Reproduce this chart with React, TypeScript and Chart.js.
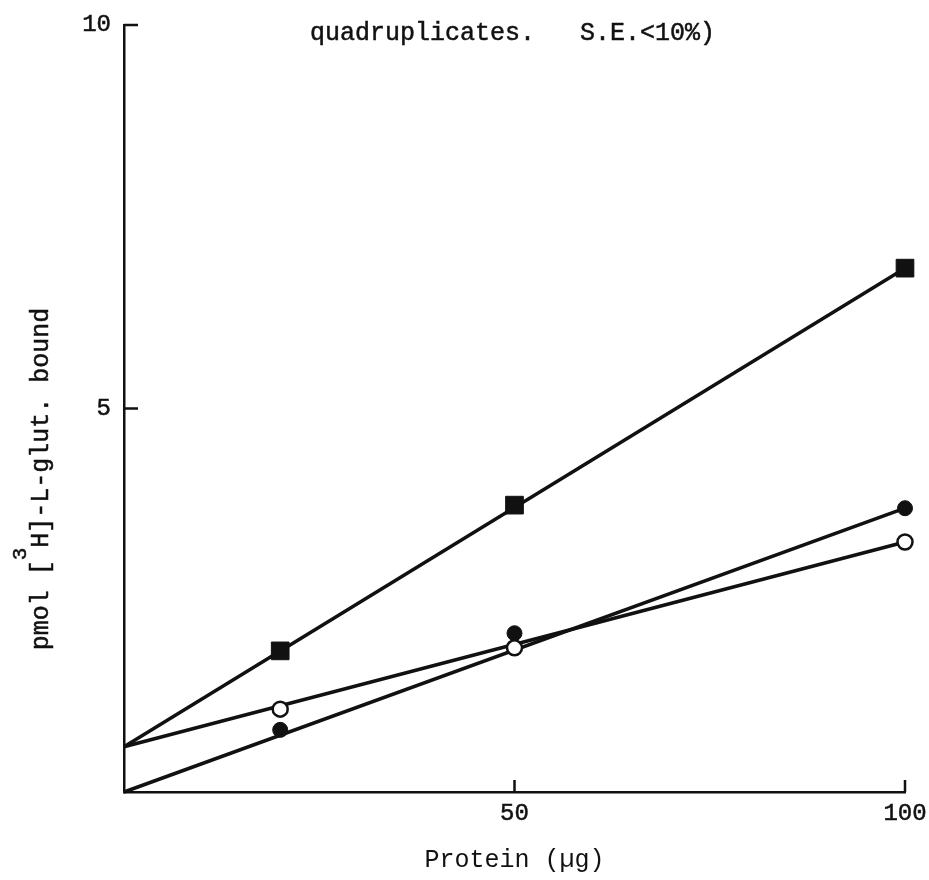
import React, { useEffect, useRef } from "react";
import { Chart, registerables } from "chart.js";

Chart.register(...registerables);

// Protein amounts (µg) at which binding was measured
const proteinLevels = [20, 50, 100];

// pmol [3H]-L-glutamate bound, per condition
const squareValues = [1.84, 3.74, 6.83];
const filledValues = [0.81, 2.07, 3.7];
const openValues = [1.08, 1.88, 3.26];

// Fitted lines: [value at 0 µg, value at 100 µg]
const fitX = [0, 100];
const squareFit = [0.59, 6.83];
const filledFit = [0, 3.7];
const openFit = [0.59, 3.26];

// Axis tick values
const xTicks = [50, 100];
const yTicks = [5, 10];

const titleText = "quadruplicates.   S.E.<10%)";
const xTitle = "Protein (µg)";
const yTitleParts = ["pmol [", "3", "H]-L-glut. bound"];

const MONO = "'Liberation Mono', 'DejaVu Sans Mono', monospace";

const pts = (xs: number[], ys: number[]) => xs.map((x, i) => ({ x, y: ys[i] }));

// Tick marks point into the plot, plus the heading and rotated y title
const decorations = {
  id: "decorations",
  afterDraw(chart: any) {
    const { ctx, chartArea, scales } = chart;
    const xs = scales.x;
    const ys = scales.y;
    ctx.save();
    ctx.strokeStyle = "#111";
    ctx.lineWidth = 2.5;
    ctx.beginPath();
    yTicks.forEach((v) => {
      const py = ys.getPixelForValue(v);
      ctx.moveTo(chartArea.left, py);
      ctx.lineTo(chartArea.left + 14, py);
    });
    xTicks.forEach((v) => {
      const px = xs.getPixelForValue(v);
      ctx.moveTo(px, chartArea.bottom);
      ctx.lineTo(px, chartArea.bottom - 12);
    });
    ctx.stroke();

    // heading
    ctx.fillStyle = "#111";
    ctx.strokeStyle = "#111";
    ctx.lineWidth = 0.5;
    ctx.font = `25px ${MONO}`;
    ctx.textAlign = "left";
    ctx.textBaseline = "alphabetic";
    ctx.fillText(titleText, 310, 40);
    ctx.strokeText(titleText, 310, 40);

    // y-axis title with superscript
    ctx.translate(48, 479);
    ctx.rotate(-Math.PI / 2);
    const mainFont = `25px ${MONO}`;
    const supFont = `21px ${MONO}`;
    ctx.font = mainFont;
    const w1 = ctx.measureText(yTitleParts[0]).width;
    const w3 = ctx.measureText(yTitleParts[2]).width;
    ctx.font = supFont;
    const w2 = ctx.measureText(yTitleParts[1]).width;
    let x0 = -(w1 + w2 + w3) / 2;
    const put = (s: string, x: number, y: number) => {
      ctx.fillText(s, x, y);
      ctx.strokeText(s, x, y);
    };
    ctx.font = mainFont;
    put(yTitleParts[0], x0, 0);
    x0 += w1;
    ctx.font = supFont;
    put(yTitleParts[1], x0, -22);
    x0 += w2;
    ctx.font = mainFont;
    put(yTitleParts[2], x0, 0);
    ctx.restore();
  },
};

export default function App() {
  const canvasRef = useRef<HTMLCanvasElement | null>(null);

  useEffect(() => {
    if (!canvasRef.current) return;
    const lineStyle = {
      showLine: true,
      borderColor: "#111",
      borderWidth: 3.5,
      pointRadius: 0,
      pointHoverRadius: 0,
      fill: false,
    };
    const chart = new Chart(canvasRef.current, {
      type: "scatter",
      data: {
        datasets: [
          {
            label: "open",
            data: pts(proteinLevels, openValues),
            pointStyle: "circle",
            pointRadius: 7.5,
            backgroundColor: "#fff",
            borderColor: "#111",
            borderWidth: 2.5,
          },
          {
            label: "filled",
            data: pts(proteinLevels, filledValues),
            pointStyle: "circle",
            pointRadius: 7.5,
            backgroundColor: "#111",
            borderColor: "#111",
            borderWidth: 1,
          },
          {
            label: "squares",
            data: pts(proteinLevels, squareValues),
            pointStyle: "rect",
            pointRadius: 12.5,
            backgroundColor: "#111",
            borderColor: "#111",
            borderWidth: 1,
          },
          { label: "square fit", data: pts(fitX, squareFit), ...lineStyle },
          { label: "filled fit", data: pts(fitX, filledFit), ...lineStyle },
          { label: "open fit", data: pts(fitX, openFit), ...lineStyle },
        ],
      },
      options: {
        responsive: false,
        animation: false,
        devicePixelRatio: 1,
        clip: false,
        layout: { padding: { left: 0, right: 24, top: 25, bottom: 0 } },
        plugins: {
          legend: { display: false },
          tooltip: { enabled: false },
          title: { display: false },
        },
        scales: {
          x: {
            type: "linear",
            min: 0,
            max: 100,
            grid: { display: false, drawTicks: false },
            border: { display: true, color: "#111", width: 2.5 },
            ticks: {
              stepSize: 50,
              padding: 7,
              color: "#111",
              font: { family: MONO, size: 24 },
              textStrokeColor: "#111",
              textStrokeWidth: 0.5,
              maxRotation: 0,
              callback: (v: any) => (xTicks.includes(Number(v)) ? String(v) : ""),
            },
            title: {
              display: true,
              text: xTitle,
              color: "#111",
              font: { family: MONO, size: 25 },
              padding: { top: 0, bottom: 5 },
            },
            afterFit: (scale: any) => {
              scale.height = 88;
              scale.paddingLeft = 0;
              scale.paddingRight = 0;
            },
          },
          y: {
            type: "linear",
            min: 0,
            max: 10,
            grid: { display: false, drawTicks: false },
            border: { display: true, color: "#111", width: 2.5 },
            ticks: {
              stepSize: 5,
              padding: 13,
              color: "#111",
              font: { family: MONO, size: 24 },
              textStrokeColor: "#111",
              textStrokeWidth: 0.5,
              callback: (v: any) => (yTicks.includes(Number(v)) ? String(v) : ""),
            },
            afterFit: (scale: any) => {
              scale.width = 124;
              scale.paddingTop = 0;
              scale.paddingBottom = 0;
            },
          },
        },
      },
      plugins: [decorations],
    });
    return () => chart.destroy();
  }, []);

  return (
    <div style={{ position: "fixed", left: 0, top: 0, width: 929, height: 880, background: "#fff" }}>
      <canvas ref={canvasRef} width={929} height={880} />
    </div>
  );
}
